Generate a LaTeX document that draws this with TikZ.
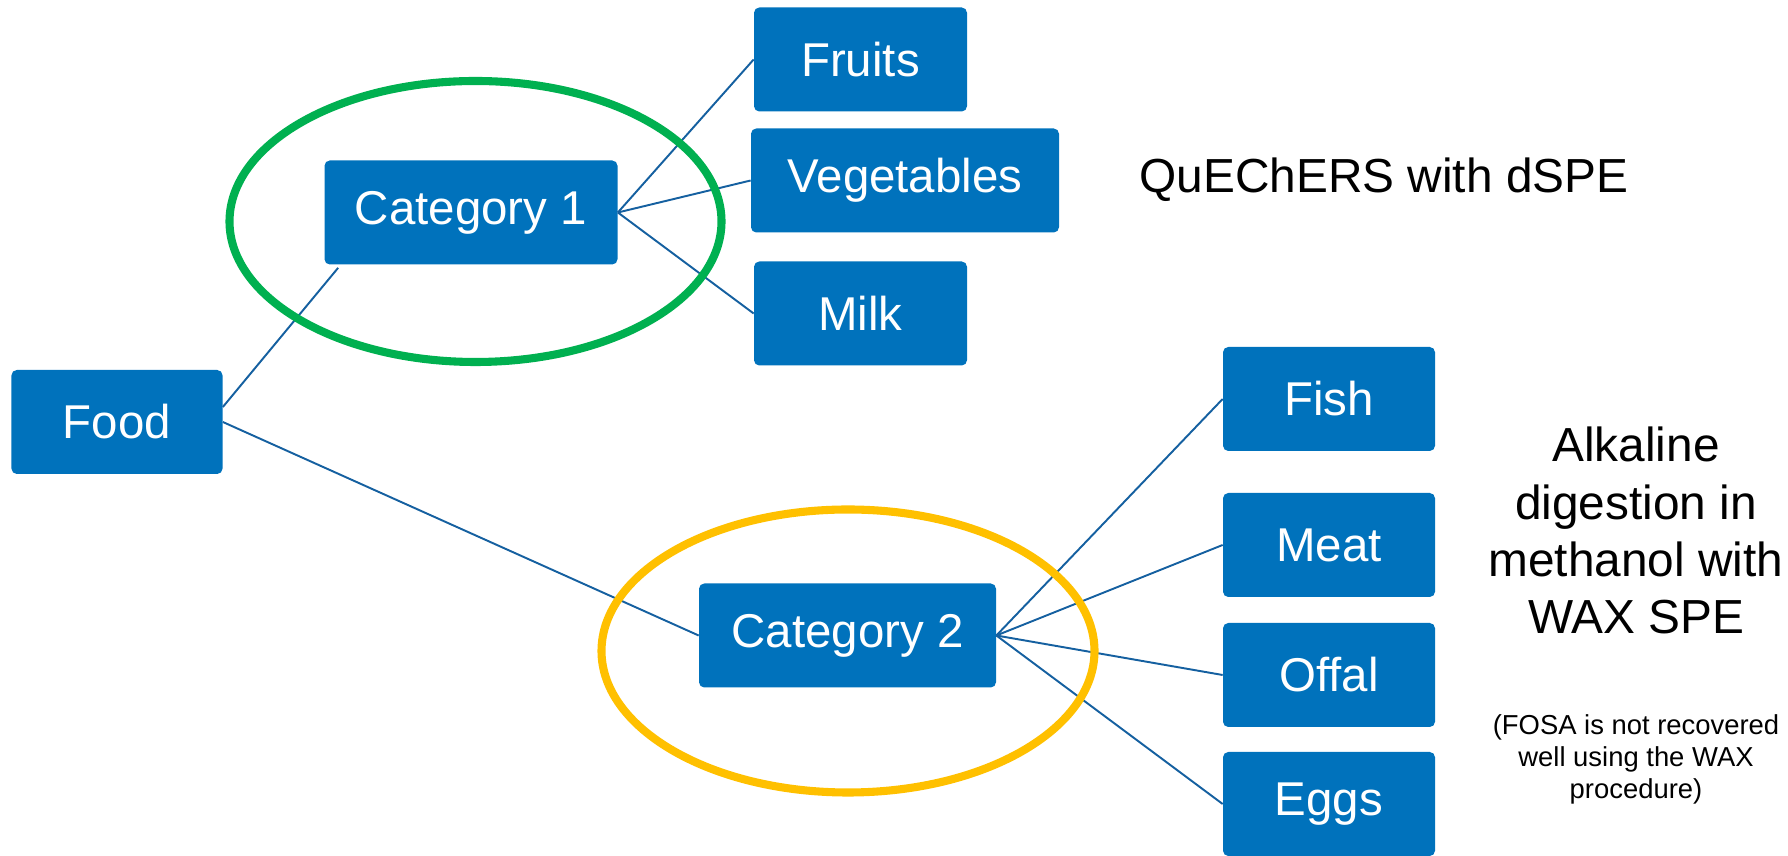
\documentclass[tikz,border=0pt]{standalone}
\usepackage{fontspec}
\setmainfont{Liberation Sans}
\usepackage{xcolor}
\usepackage{tikz}
\usetikzlibrary{positioning, shapes, calc}

\definecolor{boxblue}{RGB}{0,114,188}
\definecolor{lineblue}{RGB}{21,96,160}
\definecolor{ringgreen}{RGB}{0,176,80}
\definecolor{ringyellow}{RGB}{255,192,0}

\tikzset{
  foodbox/.style={draw=none, fill=boxblue, rounded corners=3pt, text=white,
    minimum height=2.08cm, inner sep=0pt,
    font=\fontsize{27}{32.5}\selectfont},
  link/.style={lineblue, line width=1.1pt},
  ring/.style={line width=4.6pt},
  note/.style={align=center, inner sep=0pt, font=\fontsize{27.2}{32.5}\selectfont}
}

\begin{document}
\begin{tikzpicture}
    \useasboundingbox (0,0) rectangle (35.76,17.12);
    % food tree
    \node[foodbox, minimum width=4.22cm] (food) at (2.34,8.68) {Food};
    \node[foodbox, minimum width=5.86cm] (cat1) at (9.42,12.87) {Category 1};
    \node[foodbox, minimum width=5.94cm] (cat2) at (16.95,4.41) {Category 2};

    \node[foodbox, minimum width=4.26cm] (fruits) at (17.21,15.93) {Fruits};
    \node[foodbox, minimum width=6.16cm] (veg) at (18.10,13.51) {Vegetables};
    \node[foodbox, minimum width=4.26cm] (milk) at (17.21,10.85) {Milk};

    \node[foodbox, minimum width=4.24cm] (fish) at (26.58,9.14) {Fish};
    \node[foodbox, minimum width=4.24cm] (meat) at (26.58,6.22) {Meat};
    \node[foodbox, minimum width=4.24cm] (offal) at (26.58,3.62) {Offal};
    \node[foodbox, minimum width=4.24cm] (eggs) at (26.58,1.04) {Eggs};

    % connectors
    \draw[link] ([yshift=0.3cm]food.east) -- ([xshift=0.28cm, yshift=-0.06cm]cat1.south west);
    \draw[link] (food.east) -- (cat2.west);
    \foreach \leaf in {fruits, veg, milk}
        \draw[link] (cat1.east) -- (\leaf.west);
    \foreach \leaf in {fish, meat, offal, eggs}
        \draw[link] (cat2.east) -- (\leaf.west);

    % groups
    \draw[ring, ringgreen] (9.51,12.69) ellipse (4.92 and 2.81);
    \draw[ring, ringyellow] (16.96,4.10) ellipse (4.93 and 2.83);

    % methods
    \node[note, anchor=base] (quechers) at (27.68,13.26) {QuEChERS with dSPE};
    \node[note, anchor=north] (alkaline) at (32.72,8.58)
        {Alkaline\\digestion in\\methanol with\\WAX SPE};
    \node[note, anchor=north, font=\fontsize{15.6}{18.2}\selectfont] (fosa) at (32.72,2.83)
        {(FOSA is not recovered\\well using the WAX\\procedure)};
\end{tikzpicture}
\end{document}
